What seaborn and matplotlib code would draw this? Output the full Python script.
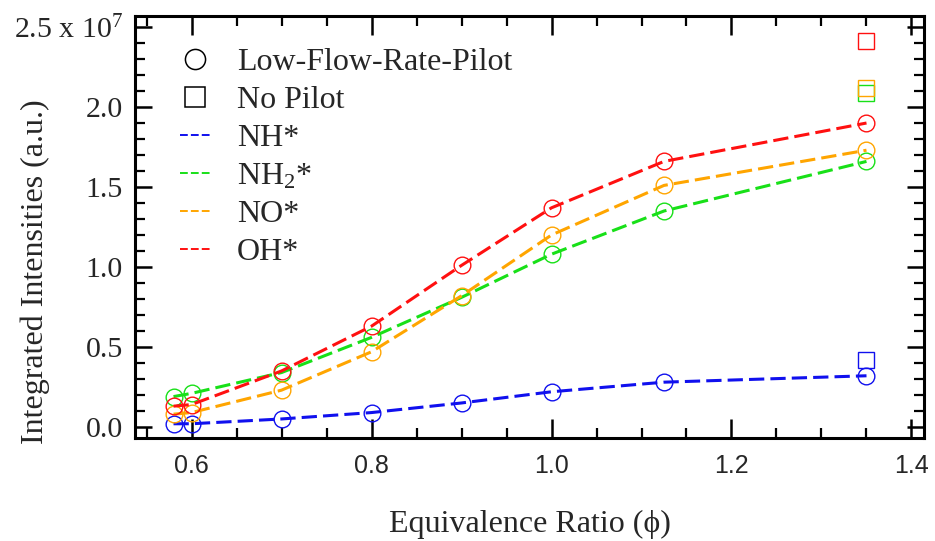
import numpy as np
import pandas as pd
import matplotlib
matplotlib.use("Agg")
import matplotlib.pyplot as plt
from matplotlib.lines import Line2D
from matplotlib.ticker import MultipleLocator
import seaborn as sns

# ---- data (intensities in units of 1e7 a.u.) ----
phi = [0.58, 0.60, 0.70, 0.80, 0.90, 1.00, 1.125, 1.35]
species = ["NH*", "NH$_{\\mathrm{2}}$*", "NO*", "OH*"]
nh_pilot = [0.02, 0.02, 0.05, 0.09, 0.15, 0.22, 0.28, 0.32]
nh2_pilot = [0.19, 0.21, 0.34, 0.56, 0.81, 1.08, 1.35, 1.66]
no_pilot_lfrp = [0.08, 0.09, 0.23, 0.47, 0.82, 1.20, 1.51, 1.73]
oh_pilot = [0.13, 0.14, 0.35, 0.63, 1.01, 1.37, 1.66, 1.90]
phi_nopilot = [1.35]
nopilot_values = [0.42, 2.09, 2.12, 2.41]   # NH*, NH2*, NO*, OH*
colors = ["#1010ee", "#18e018", "#ffa500", "#ff1010"]
yticks = [0.0, 0.5, 1.0, 1.5, 2.0, 2.5]
ytick_labels = ["0.0", "0.5", "1.0", "1.5", "2.0", "2.5 x 10$^{\\mathrm{7}}$"]
xticks = [0.6, 0.8, 1.0, 1.2, 1.4]
xtick_labels = ["0.6", "0.8", "1.0", "1.2", "1.4"]

sns.set_style("white")
plt.rcParams["font.family"] = ["Liberation Serif", "DejaVu Serif"]
plt.rcParams["mathtext.fontset"] = "custom"
plt.rcParams["mathtext.rm"] = "Liberation Serif"
plt.rcParams["mathtext.it"] = "Liberation Serif:italic"

fig = plt.figure(figsize=(9.35, 5.41), dpi=100)
W, H = 935, 541
L, R, T, B = 135, 924, 16, 438
ax = fig.add_axes([L / W, 1 - B / H, (R - L) / W, (B - T) / H])

series = [nh_pilot, nh2_pilot, no_pilot_lfrp, oh_pilot]
for vals, c in zip(series, colors):
    df = pd.DataFrame({"phi": phi, "I": vals})
    sns.lineplot(data=df, x="phi", y="I", ax=ax, color=c, lw=2.2,
                 linestyle=(0, (5, 2.0)), marker="o", markersize=12,
                 markerfacecolor="none", markeredgecolor=c,
                 markeredgewidth=1.0, legend=False)

for v, c in zip(nopilot_values, colors):
    df = pd.DataFrame({"phi": phi_nopilot, "I": [v]})
    sns.lineplot(data=df, x="phi", y="I", ax=ax, color=c, linestyle="none",
                 marker="s", markersize=11.5, markerfacecolor="none",
                 markeredgecolor=c, markeredgewidth=1.0, legend=False)

ax.set_xlim(0.5372, 1.4139)
ax.set_ylim(-0.069, 2.569)

ax.set_xticks(xticks, xtick_labels, fontfamily="Liberation Sans", fontsize=18)
ax.set_yticks(yticks, ytick_labels, fontfamily="Liberation Serif", fontsize=21.5)
ax.xaxis.set_minor_locator(MultipleLocator(0.05))
ax.yaxis.set_minor_locator(MultipleLocator(0.1))
ax.tick_params(which="both", direction="in", top=True, right=True,
               bottom=True, left=True, color="black")
ax.tick_params(axis="x", which="major", length=13.5, width=1.8, pad=11.2)
ax.tick_params(axis="y", which="major", length=12.5, width=1.8, pad=8.6)
ax.tick_params(which="minor", length=7.2, width=1.6)
for sp in ax.spines.values():
    sp.set_linewidth(2.2)
    sp.set_color("black")

ax.set_xlabel("Equivalence Ratio (\u03d5)", fontsize=23)
ax.set_ylabel("Integrated Intensities (a.u.)", fontsize=23)
ax.xaxis.set_label_coords(0.5, -0.17)
ax.yaxis.set_label_coords(-0.108, 0.393)

handles = [
    Line2D([], [], linestyle="none", marker="o", markersize=14.5,
           markerfacecolor="none", markeredgecolor="black", markeredgewidth=1.1),
    Line2D([], [], linestyle="none", marker="s", markersize=14.5,
           markerfacecolor="none", markeredgecolor="black", markeredgewidth=1.1),
]
for c in colors:
    handles.append(Line2D([], [], color=c, lw=1.4, linestyle=(0, (4, 1.6))))
labels = ["Low-Flow-Rate-Pilot", "No Pilot"] + species
ax.legend(handles, labels, loc="upper left", bbox_to_anchor=(0.0565, 0.925),
          frameon=False, fontsize=23, handlelength=0.94, handletextpad=0.85,
          labelspacing=0.27, borderpad=0, borderaxespad=0)

fig.savefig("out.png", dpi=100)
